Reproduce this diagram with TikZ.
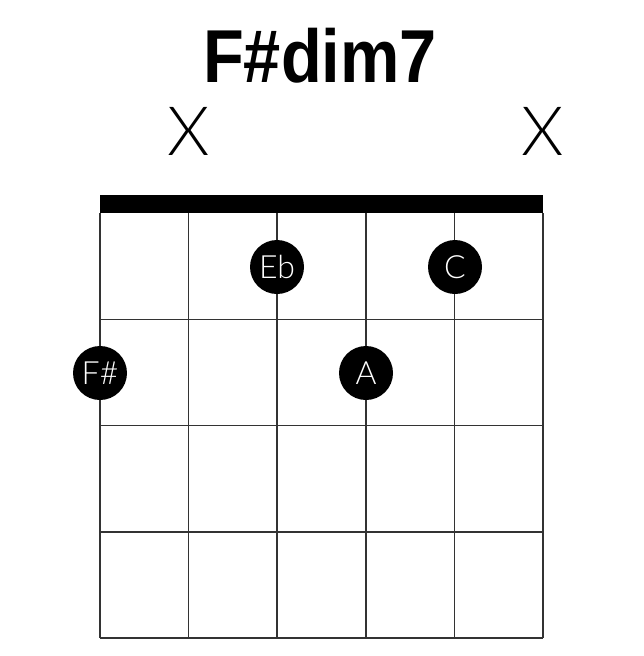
\documentclass[tikz,border=0pt]{standalone}
\usepackage{fontspec}
\setmainfont{Liberation Sans}
\newfontfamily\lightfont{Lato Light}

\begin{document}
\begin{tikzpicture}[x=1pt,y=-1pt,
  fretline/.style={draw=black!80,line width=1.5pt},
  note/.style={circle,fill=black,text=white,minimum size=54pt,inner sep=0pt,
    font=\lightfont\fontsize{32}{32}\selectfont},
  mute/.style={inner sep=0pt,font=\lightfont\fontsize{68}{68}\selectfont}]

  \useasboundingbox (0,0) rectangle (644,656);

  \node[anchor=base,font=\bfseries\fontsize{75}{75}\selectfont] (title) at (320,82)
    {\scalebox{0.89}[1]{F\#dim7}};

  \foreach \s in {0,...,5}
    \draw[fretline] (100+\s*88.6,213) -- (100+\s*88.6,638);
  \foreach \f in {1,...,4}
    \draw[fretline] (100,213+\f*106.25) -- (543,213+\f*106.25);
  \fill (100,195) rectangle (543,213);

  \node[mute] (mute1) at (189,131) {X};
  \node[mute] (mute6) at (543,131) {X};

  \node[note] (Eb) at (277,267) {Eb};
  \node[note] (C) at (455,267) {C};
  \node[note] (Fs) at (100,373) {F\#};
  \node[note] (A) at (366,373) {A};

\end{tikzpicture}
\end{document}
